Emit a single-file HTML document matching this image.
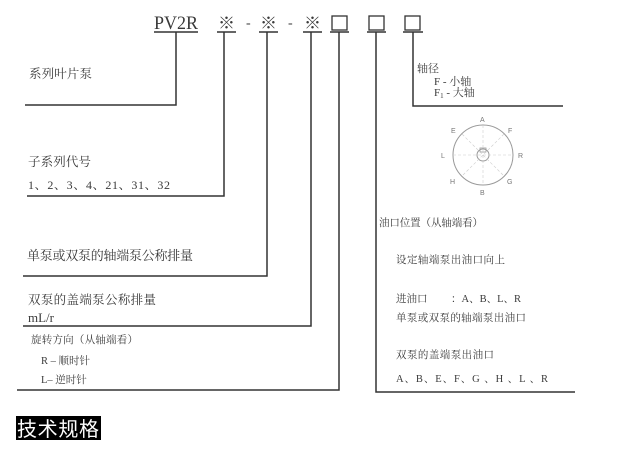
<!DOCTYPE html>
<html><head><meta charset="utf-8"><style>
html,body{margin:0;padding:0;background:#fff;}
svg{display:block;}
text{font-family:"Liberation Serif","Noto Serif CJK SC","Noto Sans CJK SC",serif;fill:#3a3a3a;}
</style></head><body>
<svg width="620" height="454" viewBox="0 0 620 454" xmlns="http://www.w3.org/2000/svg">
<g stroke="#333" stroke-width="1.5" fill="none">
<!-- underlines -->
<line x1="154" y1="32" x2="198" y2="32"/>
<line x1="217" y1="32" x2="236" y2="32"/>
<line x1="259" y1="32" x2="278" y2="32"/>
<line x1="303" y1="32" x2="322" y2="32"/>
<line x1="330" y1="32" x2="349" y2="32"/>
<line x1="367" y1="32" x2="386" y2="32"/>
<line x1="403" y1="32" x2="423" y2="32"/>
<!-- connectors -->
<polyline points="176,32 176,105 25,105"/>
<polyline points="224,32 224,196 27,196"/>
<polyline points="267,32 267,276 23,276"/>
<polyline points="311,32 311,326 23,326"/>
<polyline points="339,32 339,390 17,390"/>
<polyline points="376,32 376,392 575,392"/>
<polyline points="413,32 413,106 563,106"/>
<!-- boxes -->
<rect x="332" y="16" width="15" height="14" stroke-width="1.3"/>
<rect x="369" y="16" width="15" height="14" stroke-width="1.3"/>
<rect x="405" y="16" width="15" height="14" stroke-width="1.3"/>
</g>
<text x="154" y="29" font-size="19" textLength="44" lengthAdjust="spacingAndGlyphs">PV2R</text>
<text x="218" y="29" font-size="17">※</text>
<text x="260" y="29" font-size="17">※</text>
<text x="304" y="29" font-size="17">※</text>
<text x="246" y="27" font-size="14">-</text>
<text x="288" y="27" font-size="14">-</text>

<!-- circle -->
<g stroke="#999" fill="none">
<circle cx="483" cy="155" r="30" stroke-width="1"/>
<circle cx="483" cy="155" r="6" stroke-width="1"/>
<rect x="480" y="148" width="6" height="4" stroke-width="0.8"/>
<g stroke="#ccc" stroke-width="0.6" stroke-dasharray="3,2">
<line x1="483" y1="125" x2="483" y2="185"/>
<line x1="453" y1="155" x2="513" y2="155"/>
<line x1="462" y1="134" x2="504" y2="176"/>
<line x1="504" y1="134" x2="462" y2="176"/>
</g></g>
<g font-family="Liberation Sans, sans-serif" font-size="7" style="font-family:'Liberation Sans',sans-serif">
<text x="480" y="122" style="fill:#777;font-family:'Liberation Sans',sans-serif">A</text>
<text x="451" y="133" style="fill:#777;font-family:'Liberation Sans',sans-serif">E</text>
<text x="508" y="133" style="fill:#777;font-family:'Liberation Sans',sans-serif">F</text>
<text x="441" y="158" style="fill:#777;font-family:'Liberation Sans',sans-serif">L</text>
<text x="518" y="158" style="fill:#777;font-family:'Liberation Sans',sans-serif">R</text>
<text x="450" y="184" style="fill:#777;font-family:'Liberation Sans',sans-serif">H</text>
<text x="507" y="184" style="fill:#777;font-family:'Liberation Sans',sans-serif">G</text>
<text x="480" y="195" style="fill:#777;font-family:'Liberation Sans',sans-serif">B</text>
</g>

<!-- left labels -->
<text x="29" y="78" font-size="12.5" textLength="63">系列叶片泵</text>
<text x="28" y="166" font-size="12.5" textLength="63">子系列代号</text>
<text x="28" y="189" font-size="12" textLength="142">1、2、3、4、21、31、32</text>
<text x="27" y="260" font-size="13" textLength="166">单泵或双泵的轴端泵公称排量</text>
<text x="28" y="304" font-size="12.5" textLength="128">双泵的盖端泵公称排量</text>
<text x="28" y="322" font-size="13">mL/r</text>
<text x="31" y="343" font-size="10.5" textLength="107">旋转方向（从轴端看）</text>
<text x="41" y="364" font-size="10.5">R –  顺时针</text>
<text x="41" y="383" font-size="10.5">L–  逆时针</text>

<!-- right labels -->
<text x="417" y="72" font-size="11">轴径</text>
<text x="434" y="85" font-size="11">F -  小轴</text>
<text x="434" y="96" font-size="11">F<tspan font-size="7" dy="2">1</tspan><tspan dy="-2"> -  大轴</tspan></text>
<text x="379" y="226" font-size="10.5" textLength="104">油口位置（从轴端看）</text>
<text x="396" y="263" font-size="10.5" textLength="109">设定轴端泵出油口向上</text>
<text x="396" y="302" font-size="10.5">进油口</text>
<text x="451" y="302" font-size="10.5">：A、B、L、R</text>
<text x="396" y="321" font-size="10.5" textLength="130">单泵或双泵的轴端泵出油口</text>
<text x="396" y="358" font-size="10.5" textLength="98">双泵的盖端泵出油口</text>
<text x="396" y="382" font-size="10.5" textLength="152">A、B、E、F、G 、H 、L 、R</text>

<rect x="16" y="416" width="85" height="24" fill="#000"/>
<text x="17" y="436" font-size="20" textLength="82" style="fill:#fff;font-family:'Liberation Sans','Noto Sans CJK SC',sans-serif">技术规格</text>
</svg>
</body></html>
